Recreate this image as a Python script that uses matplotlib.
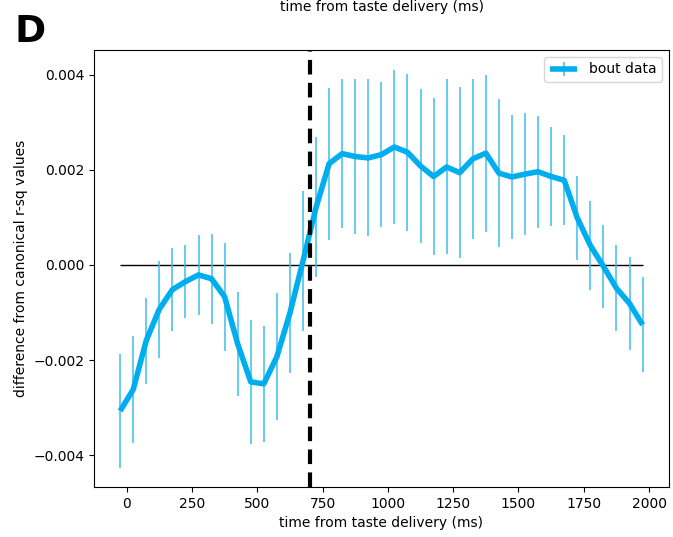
import numpy as np
import matplotlib
matplotlib.use('Agg')
import matplotlib.pyplot as plt

# time bins (ms, relative to taste delivery)
times = np.arange(-25, 2000, 50)

# mean difference from canonical r-sq (x1e-3)
mean_vals = [-3.07, -2.62, -1.59, -0.93, -0.52, -0.35, -0.21, -0.29, -0.67, -1.66,
             -2.46, -2.50, -1.93, -1.01, 0.08, 1.21, 2.13, 2.34, 2.28, 2.25,
             2.32, 2.48, 2.37, 2.08, 1.86, 2.06, 1.94, 2.23, 2.35, 1.93,
             1.85, 1.91, 1.96, 1.86, 1.78, 0.99, 0.41, -0.03, -0.49, -0.81,
             -1.26]

# standard error (x1e-3)
sem_vals = [1.19, 1.12, 0.905, 1.02, 0.87, 0.77, 0.84, 0.95, 1.13, 1.09,
            1.31, 1.22, 1.33, 1.27, 1.47, 1.47, 1.60, 1.57, 1.62, 1.65,
            1.52, 1.61, 1.65, 1.62, 1.66, 1.84, 1.80, 1.69, 1.65, 1.56,
            1.30, 1.29, 1.18, 1.05, 0.95, 0.89, 0.94, 0.88, 0.90, 0.97,
            1.00]

mean = np.array(mean_vals) * 1e-3
sem = np.array(sem_vals) * 1e-3

fig = plt.figure(figsize=(6.73, 5.37), dpi=100)
ax = fig.add_axes([0.1397, 0.0931, 0.8539, 0.8138])

line, caps, bars = ax.errorbar(times, mean, yerr=sem, color='#00aeef', lw=4,
                               ecolor='#3dbde9', elinewidth=1.1,
                               label='bout data', zorder=3)
line.set_solid_joinstyle('round')
line.set_solid_capstyle('butt')
ax.hlines(0, times[0], times[-1], color='black', lw=1, zorder=2)
ax.axvline(700, color='black', lw=3, ls=(0, (3.5, 2)), zorder=4)

ax.set_xlim(-125, 2075)
ax.set_ylim(-0.00467, 0.00452)
ax.set_xticks([0, 250, 500, 750, 1000, 1250, 1500, 1750, 2000])
ax.set_yticks([-0.004, -0.002, 0.0, 0.002, 0.004])
ax.set_xlabel('time from taste delivery (ms)')
ax.set_ylabel('difference from canonical r-sq values')
ax.legend(loc='upper right')

# xlabel of the panel above
fig.text(0.567, 1 - 7 / 537, 'time from taste delivery (ms)', ha='center', va='center',
         fontsize=10)
fig.text(0.022, 1 - 42 / 537, 'D', fontsize=27, fontweight='heavy', va='baseline')

fig.savefig('out.png', dpi=100)
